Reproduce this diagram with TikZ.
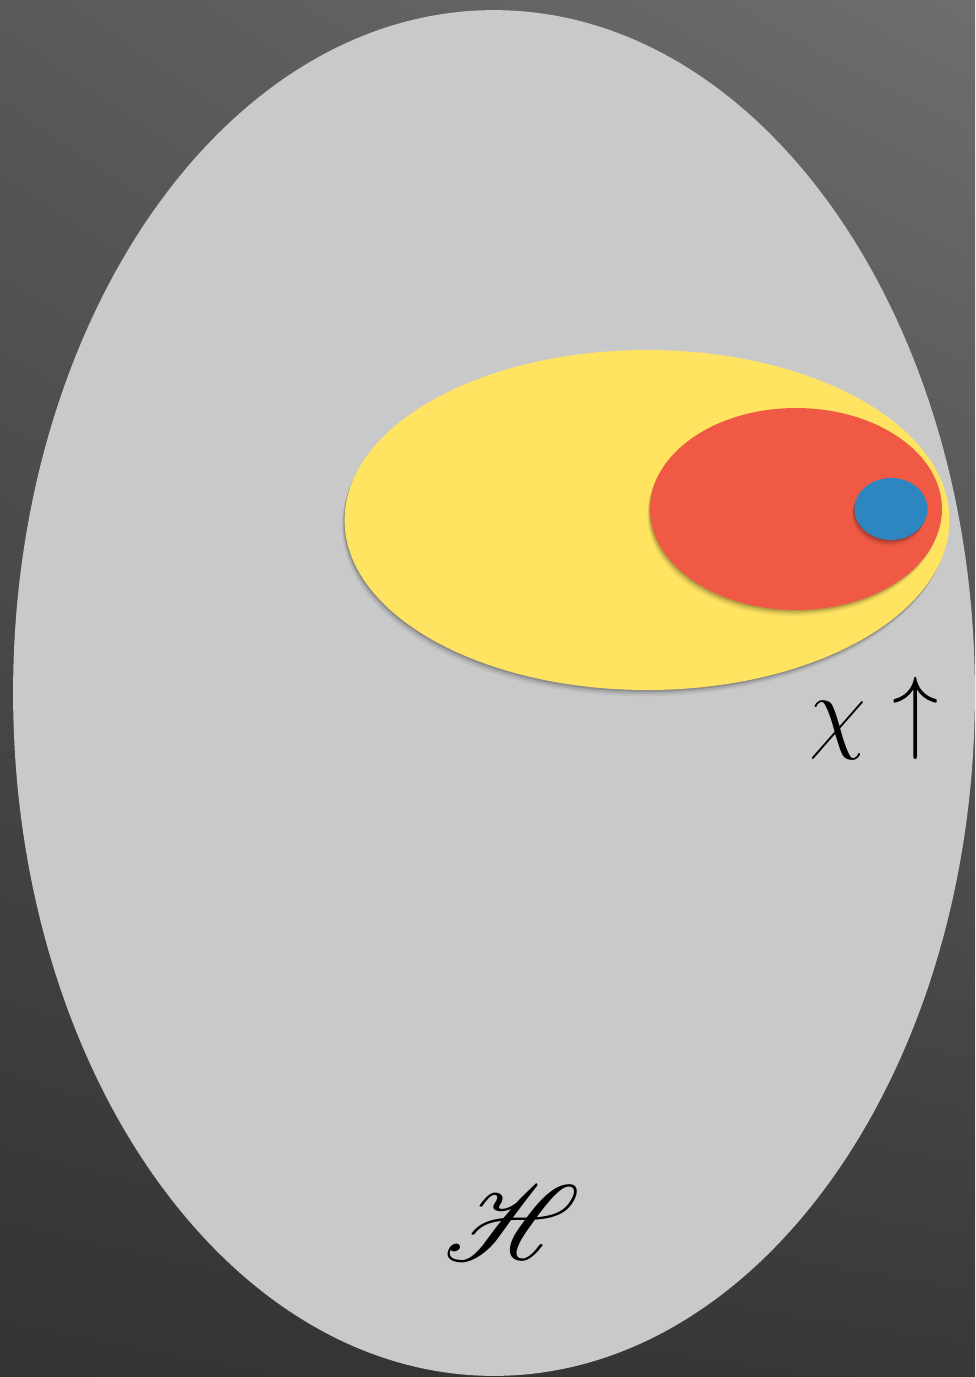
\documentclass[tikz,border=0pt]{standalone}
\usepackage{amssymb, amsmath}
\usepackage{mathrsfs}
\usepackage{tikz, graphicx}
\usetikzlibrary{shapes,shadows,shadings}

\definecolor{raumgrau}{HTML}{C9C9C9}
\definecolor{gelb}{HTML}{FFE462}
\definecolor{rot}{HTML}{F05A44}
\definecolor{blau}{HTML}{2E86C1}

\begin{document}
\begin{tikzpicture}[x=0.02cm, y=-0.02cm,
			menge/.style={ellipse, draw=none, inner sep=0pt, outer sep=0pt},   %Mengen als Ellipsen
			schatten/.style={drop shadow={shadow xshift=-0.5pt, shadow yshift=-1pt, opacity=0.16, fill=black},
				drop shadow={shadow xshift=-1pt, shadow yshift=-2.2pt, opacity=0.1, fill=black},
				drop shadow={shadow xshift=-1.5pt, shadow yshift=-3.5pt, opacity=0.06, fill=black}},
			font=\Huge]
			\useasboundingbox (0,0) rectangle (975,1377);
			%Hintergrund
			\shade[upper left=black!65, upper right=black!57, lower left=black!80, lower right=black!78] (0,0) rectangle (975,1377);
			% Raum H
			\node[menge, fill=raumgrau, minimum width=19.24cm, minimum height=27.32cm] (raum) at (494,693) {};
			% Teilmengen
			\node[menge, schatten, fill=gelb, minimum width=12.1cm, minimum height=6.8cm] (gelbmenge) at (647,520) {};
			\node[menge, schatten, fill=rot, minimum width=5.84cm, minimum height=4.04cm] (rotmenge) at (796,509) {};
			\node[menge, schatten, fill=blau, minimum width=1.46cm, minimum height=1.24cm] (blaumenge) at (891,509) {};
			%Beschriftung
			\node (chi) at (874,718) {\scalebox{2.12}{$\chi\uparrow$}};
			\node (hilb) at (512,1223) {\scalebox{2.45}{$\mathscr{H}$}};
		\end{tikzpicture}
\end{document}
